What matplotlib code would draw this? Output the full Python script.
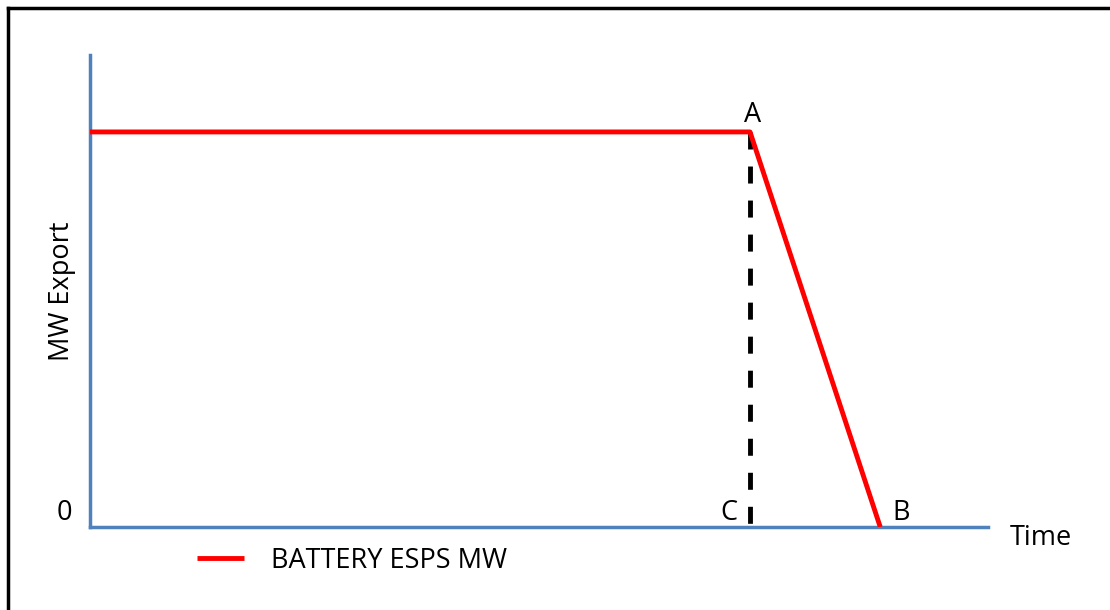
import matplotlib
matplotlib.use('Agg')
import matplotlib.pyplot as plt
from matplotlib.lines import Line2D

# Profile of the battery export (time in % of the axis, MW as fraction)
time = [0, 73.5, 88.0]
mw_export = [0.837, 0.837, 0.0]
point_labels = ['A', 'B', 'C', '0']
series_name = 'BATTERY ESPS MW'

plt.rcParams['font.family'] = ['Open Sans', 'DejaVu Sans']

W, H = 1110, 610
fig = plt.figure(figsize=(W / 100, H / 100), dpi=100)
ax = fig.add_axes([90 / W, 1 - 527 / H, 898 / W, 472 / H])

ax.plot(time, mw_export, color='#FF0000', lw=3.5, solid_capstyle='butt',
        label=series_name, zorder=3)
# dashed drop line from A down to C (drawn top to bottom so it starts with a dash)
ax.plot([time[1], time[1]], [mw_export[1], 0], color='black', lw=3.5,
        linestyle=(0, (3.5, 3.5)), zorder=2)

ax.set_xlim(0, 100)
ax.set_ylim(0, 1)
ax.set_xticks([])
ax.set_yticks([])
for s in ['top', 'right']:
    ax.spines[s].set_visible(False)
for s in ['left', 'bottom']:
    ax.spines[s].set_color('#4F81BD')
    ax.spines[s].set_linewidth(2.5)

fs = 19.5
ax.text(time[1] + 0.3, 0.858, point_labels[0], fontsize=fs, ha='center', va='baseline')
ax.text(time[2] + 2.3, 0.015, point_labels[1], fontsize=fs, ha='center', va='baseline')
ax.text(time[1] - 2.4, 0.015, point_labels[2], fontsize=fs, ha='center', va='baseline')
ax.text(-2.8, 0.015, point_labels[3], fontsize=fs, ha='center', va='baseline')
ax.text(105.9, -0.038, 'Time', fontsize=fs, ha='center', va='baseline', clip_on=False)
ax.set_ylabel('MW Export', fontsize=fs, labelpad=10)

leg = ax.legend(loc='upper left', bbox_to_anchor=(0.092, 0.01), frameon=False,
                fontsize=fs, handlelength=1.75, handletextpad=1.0)

# outer frame (top and left edges only)
fig.add_artist(Line2D([8 / W, 1], [1 - 8 / H, 1 - 8 / H], color='black', lw=2.5))
fig.add_artist(Line2D([8 / W, 8 / W], [0, 1 - 8 / H], color='black', lw=2.5))

fig.savefig('out.png', dpi=100)
